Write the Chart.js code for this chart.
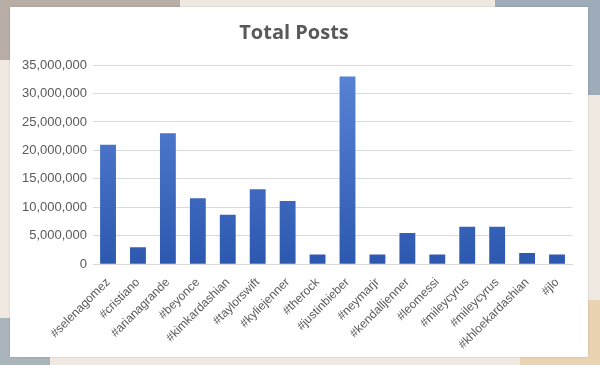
<!DOCTYPE html>
<html>
<head>
<meta charset="utf-8">
<script src="https://cdn.jsdelivr.net/npm/chart.js@4"></script>
<style>
  body { margin:0; width:600px; height:365px; background:#efe9e1; position:relative; overflow:hidden; }
  .deco { position:absolute; }
  #panel { position:absolute; left:10px; top:7px; width:578px; height:350px; background:#fff; box-shadow:0 0 2px rgba(0,0,0,0.15); }
</style>
</head>
<body>
<div class="deco" style="left:0;top:0;width:180px;height:7px;background:#b9aea5;"></div>
<div class="deco" style="left:0;top:0;width:10px;height:60px;background:#b9aea5;"></div>
<div class="deco" style="left:495px;top:0;width:105px;height:7px;background:#9eabb8;"></div>
<div class="deco" style="left:588px;top:0;width:12px;height:95px;background:#9eabb8;"></div>
<div class="deco" style="left:0;top:318px;width:10px;height:47px;background:#a9b4bb;"></div>
<div class="deco" style="left:0;top:357px;width:50px;height:8px;background:#a9b4bb;"></div>
<div class="deco" style="left:588px;top:300px;width:12px;height:65px;background:#ead3b3;"></div>
<div class="deco" style="left:520px;top:357px;width:80px;height:8px;background:#ead3b3;"></div>
<div id="panel"><canvas id="chart" width="578" height="350"></canvas></div>
<script>
const categories = ['#selenagomez', '#cristiano', '#arianagrande', '#beyonce', '#kimkardashian',
  '#taylorswift', '#kyliejenner', '#therock', '#justinbieber', '#neymarjr', '#kendalljenner',
  '#leomessi', '#mileycyrus', '#mileycyrus', '#khloekardashian', '#jlo'];
const totalPosts = [21000000, 3000000, 23000000, 11600000, 8700000, 13200000, 11100000, 1700000,
  33000000, 1700000, 5500000, 1700000, 6600000, 6600000, 2000000, 1700000];

const ctx = document.getElementById('chart');

function barGradient(context) {
    const area = context.chart.chartArea;
    if (!area) return '#4472c4';
    const g = context.chart.ctx.createLinearGradient(0, area.top, 0, area.bottom);
    g.addColorStop(0, '#5a85d6');
    g.addColorStop(1, '#2d58b0');
    return g;
}

const chart = new Chart(ctx, {
    type: 'bar',
    data: {
        labels: categories,
        datasets: [{
            label: 'Total Posts',
            data: totalPosts,
            backgroundColor: barGradient,
            borderWidth: 0,
            categoryPercentage: 1.0,
            barPercentage: 0.53
        }]
    },
    options: {
        responsive: false,
        animation: false,
        layout: { padding: { left: 6, right: 16, top: 0, bottom: 2 } },
        scales: {
            x: {
                grid: { display: false },
                border: { color: '#d9d9d9' },
                ticks: {
                    color: '#595959',
                    font: { family: 'Liberation Sans', size: 12 },
                    minRotation: 45,
                    maxRotation: 45,
                    autoSkip: false,
                    padding: 3
                }
            },
            y: {
                min: 0,
                max: 35000000,
                grid: { color: '#d9d9d9', drawTicks: false },
                border: { display: false },
                ticks: {
                    stepSize: 5000000,
                    color: '#595959',
                    padding: 6,
                    font: { family: 'Liberation Sans', size: 13 },
                    callback: v => v.toLocaleString('en-US')
                }
            }
        },
        plugins: {
            legend: { display: false },
            tooltip: { enabled: false },
            title: {
                display: true,
                text: 'Total Posts',
                color: '#595959',
                font: { family: 'Open Sans', size: 20, weight: 'bold' },
                padding: { top: 14, bottom: 20 }
            }
        }
    }
});
</script>
</body>
</html>
